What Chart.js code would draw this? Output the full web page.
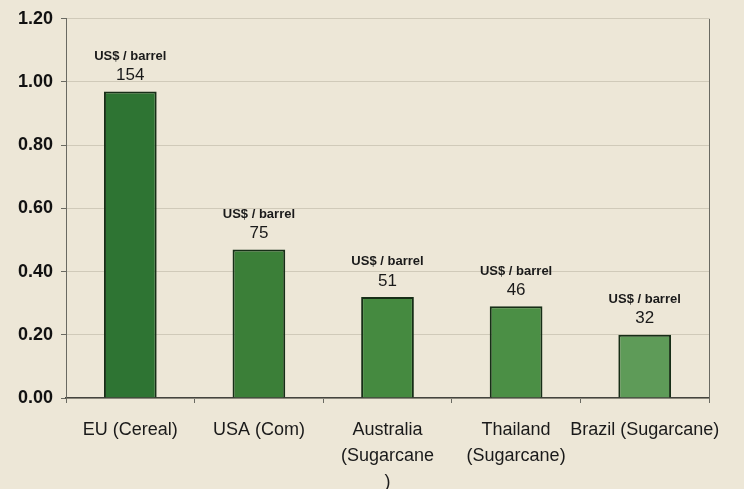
<!DOCTYPE html>
<html>
<head>
<meta charset="utf-8">
<script src="https://cdn.jsdelivr.net/npm/chart.js@4.4.1/dist/chart.umd.min.js"></script>
<style>
  html, body { margin: 0; padding: 0; background: #ede7d7; }
  #wrap { width: 744px; height: 489px; }
</style>
</head>
<body>
<div id="wrap"><canvas id="cost"></canvas></div>
<script>
// Dados do gráfico
const categories = [
  'EU (Cereal)',
  'USA (Com)',
  ['Australia', '(Sugarcane', ')'],
  ['Thailand', '(Sugarcane)'],
  'Brazil (Sugarcane)'
];
const values = [0.97, 0.47, 0.32, 0.29, 0.20];
const perBarrel = ['154', '75', '51', '46', '32'];
const barColors = ['#2e7433', '#3b7f38', '#458a40', '#4b8f45', '#5e9b58'];
const yTicks = [0, 0.2, 0.4, 0.6, 0.8, 1.0, 1.2];

// Rótulos acima das barras
const barLabels = {
  id: 'barLabels',
  afterDatasetsDraw(chart) {
    const ctx = chart.ctx;
    const meta = chart.getDatasetMeta(0);
    ctx.save();
    ctx.textAlign = 'center';
    ctx.textBaseline = 'middle';
    ctx.fillStyle = '#1a1a1a';
    meta.data.forEach((bar, i) => {
      ctx.font = 'bold 13px "Liberation Sans", Arial, sans-serif';
      ctx.fillText('US$ / barrel', bar.x, bar.y - 35);
      ctx.font = '17px "Liberation Sans", Arial, sans-serif';
      ctx.fillText(perBarrel[i], bar.x, bar.y - 16);
    });
    ctx.restore();
  }
};

// Borda direita da área do gráfico
const rightBorder = {
  id: 'rightBorder',
  afterDraw(chart) {
    const { ctx, chartArea } = chart;
    ctx.save();
    ctx.strokeStyle = '#6a6a62';
    ctx.lineWidth = 1;
    ctx.beginPath();
    ctx.moveTo(chartArea.right + 0.5, chartArea.top);
    ctx.lineTo(chartArea.right + 0.5, chartArea.bottom + 2);
    ctx.stroke();
    ctx.restore();
  }
};

const costChart = new Chart(document.getElementById('cost'), {
  type: 'bar',
  data: {
    labels: categories,
    datasets: [{
      data: values,
      backgroundColor: barColors,
      borderColor: '#172e17',
      borderWidth: 2,
      categoryPercentage: 1,
      barPercentage: 0.41
    }]
  },
  options: {
    responsive: true,
    maintainAspectRatio: false,
    animation: false,
    layout: { padding: { top: 16, right: 35, left: 0, bottom: 0 } },
    plugins: {
      legend: { display: false },
      tooltip: { enabled: false }
    },
    scales: {
      x: {
        grid: {
          offset: true,
          drawOnChartArea: false,
          tickLength: 5,
          tickColor: '#6a6a62'
        },
        border: { color: '#44443e', width: 1.5 },
        ticks: {
          color: '#1a1a1a',
          padding: 14,
          maxRotation: 0,
          autoSkip: false,
          font: { family: '"Liberation Sans", Arial, sans-serif', size: 18, lineHeight: 1.45 }
        },
        afterFit: s => { s.height = 91; }
      },
      y: {
        min: 0,
        max: 1.2,
        afterBuildTicks: s => { s.ticks = yTicks.map(v => ({ value: v })); },
        grid: {
          color: '#d0cab9',
          tickLength: 5,
          tickColor: '#6a6a62'
        },
        border: { color: '#6a6a62', width: 1 },
        ticks: {
          color: '#111',
          padding: 8,
          callback: v => v.toFixed(2),
          font: { family: '"Liberation Sans", Arial, sans-serif', size: 18, weight: 'bold' }
        },
        afterFit: s => { s.width = 66; }
      }
    }
  },
  plugins: [barLabels, rightBorder]
});
</script>
</body>
</html>
